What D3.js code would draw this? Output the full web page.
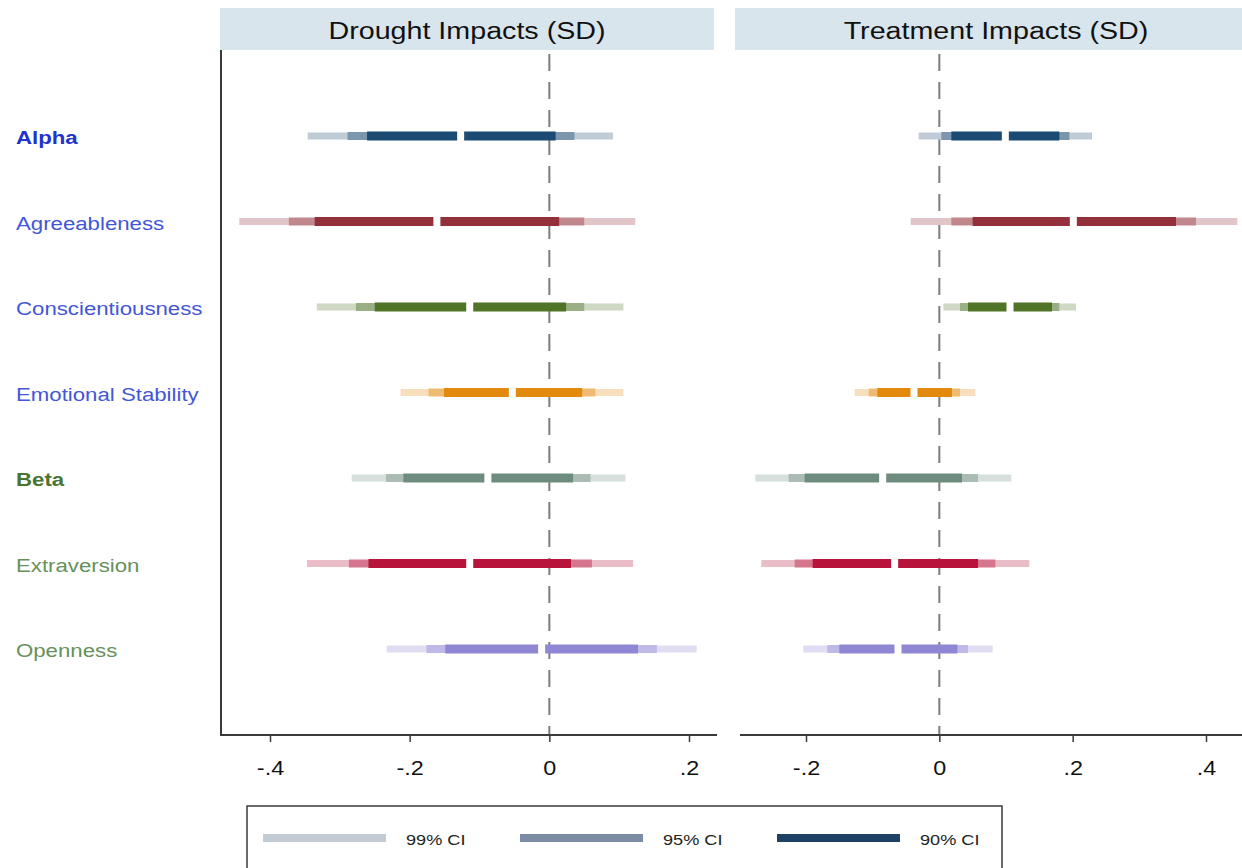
<!DOCTYPE html>
<html>
<head>
<meta charset="utf-8">
<script src="https://cdn.jsdelivr.net/npm/d3@7/dist/d3.min.js"></script>
<style>
  html, body { margin: 0; padding: 0; background: #fff; }
  svg { display: block; font-family: "Liberation Sans", Arial, Helvetica, sans-serif; }
</style>
</head>
<body>
<svg id="chart" width="1242" height="868"></svg>
<script>
// ---------------- DATA ----------------
const categories = ["Alpha", "Agreeableness", "Conscientiousness", "Emotional Stability", "Beta", "Extraversion", "Openness"];
const panelTitles = ["Drought Impacts (SD)", "Treatment Impacts (SD)"];
const ciLevels = ["99% CI", "95% CI", "90% CI"];

// Drought impacts
const droughtPoint = [-0.127, -0.161, -0.114, -0.053, -0.088, -0.114, -0.011];
const droughtLo99 = [-0.346, -0.444, -0.333, -0.213, -0.283, -0.347, -0.233];
const droughtHi99 = [0.091, 0.123, 0.106, 0.106, 0.109, 0.120, 0.211];
const droughtLo95 = [-0.289, -0.373, -0.277, -0.173, -0.234, -0.287, -0.176];
const droughtHi95 = [0.036, 0.050, 0.050, 0.066, 0.059, 0.061, 0.154];
const droughtLo90 = [-0.261, -0.336, -0.250, -0.151, -0.209, -0.259, -0.149];
const droughtHi90 = [0.009, 0.014, 0.024, 0.047, 0.034, 0.031, 0.127];

// Treatment impacts
const treatPoint = [0.099, 0.201, 0.106, -0.038, -0.085, -0.067, -0.062];
const treatLo99 = [-0.031, -0.043, 0.006, -0.127, -0.276, -0.267, -0.204];
const treatHi99 = [0.229, 0.447, 0.205, 0.054, 0.108, 0.135, 0.080];
const treatLo95 = [0.003, 0.018, 0.031, -0.106, -0.226, -0.217, -0.168];
const treatHi95 = [0.195, 0.385, 0.180, 0.031, 0.058, 0.084, 0.043];
const treatLo90 = [0.018, 0.050, 0.043, -0.093, -0.202, -0.190, -0.150];
const treatHi90 = [0.180, 0.355, 0.169, 0.019, 0.034, 0.058, 0.027];

const droughtTicks = [-0.4, -0.2, 0, 0.2];
const treatTicks = [-0.2, 0, 0.2, 0.4];

// ---------------- STYLE ----------------
const baseColors = ["#1b4a72", "#93303b", "#4f7428", "#e3890e", "#6e8c7e", "#b8133b", "#8f86d4"];
const labelColors = ["#2233cc", "#4356d8", "#4356d8", "#4356d8", "#4a7434", "#66915a", "#66915a"];
const labelBold = [true, false, false, false, true, false, false];
const ciTint = [0.28, 0.58, 1.0];
const ciThick = [7, 8, 9];
const legendColors = ["#c3ccd5", "#7a8ca3", "#1d4266"];
const stretch = 1.17; // horizontal text stretch of the reference

const svg = d3.select("#chart");
const white = "#ffffff";

const y = d3.scalePoint().domain(categories).range([136, 649]);

const panels = [
  { title: panelTitles[0], ticks: droughtTicks, domain: [-0.4, 0.2], range: [270, 689],
    left: 221, right: 717, hdrL: 220, hdrR: 714, leftAxis: true,
    point: droughtPoint, lo: [droughtLo99, droughtLo95, droughtLo90], hi: [droughtHi99, droughtHi95, droughtHi90] },
  { title: panelTitles[1], ticks: treatTicks, domain: [-0.2, 0.4], range: [806, 1206],
    left: 740, right: 1242, hdrL: 735, hdrR: 1257, leftAxis: false,
    point: treatPoint, lo: [treatLo99, treatLo95, treatLo90], hi: [treatHi99, treatHi95, treatHi90] }
];

const axisY = 735, plotTop = 50;
const fmt = d => d === 0 ? "0" : (d < 0 ? "-" : "") + "." + Math.round(Math.abs(d) * 10);

panels.forEach(p => {
  const x = d3.scaleLinear().domain(p.domain).range(p.range);
  const g = svg.append("g");

  // header strip
  g.append("rect").attr("x", p.hdrL).attr("y", 8).attr("width", p.hdrR - p.hdrL).attr("height", 42)
    .attr("fill", "#d9e5ec");
  g.append("text")
    .attr("transform", `translate(${(p.hdrL + p.hdrR) / 2},39) scale(${stretch},1)`)
    .attr("text-anchor", "middle").attr("font-size", 24.5).attr("fill", "#111")
    .text(p.title);

  // zero dashed line
  g.append("line").attr("x1", x(0)).attr("x2", x(0)).attr("y1", plotTop + 4).attr("y2", axisY)
    .attr("stroke", "#7d7d7d").attr("stroke-width", 2).attr("stroke-dasharray", "17,11");

  // CI bars
  categories.forEach((c, i) => {
    for (let k = 0; k < 3; k++) {
      const lo = p.lo[k][i], hi = p.hi[k][i];
      g.append("rect")
        .attr("x", x(lo)).attr("width", x(hi) - x(lo))
        .attr("y", y(c) - ciThick[k] / 2).attr("height", ciThick[k])
        .attr("fill", d3.interpolateRgb(white, baseColors[i])(ciTint[k]));
    }
    // point estimate marker (white)
    g.append("rect")
      .attr("x", x(p.point[i]) - 3.5).attr("width", 7)
      .attr("y", y(c) - 5).attr("height", 10)
      .attr("fill", "#ffffff");
  });

  // bottom axis
  const ax = g.append("g").attr("transform", `translate(0,${axisY})`)
    .call(d3.axisBottom(x).tickValues(p.ticks).tickFormat(fmt).tickSize(7).tickSizeOuter(0));
  ax.select(".domain").remove();
  ax.selectAll(".tick line").attr("stroke", "#3a3a3a").attr("stroke-width", 1.5);
  ax.selectAll(".tick text")
    .attr("y", 40).attr("dy", null)
    .attr("font-size", 20).attr("fill", "#111")
    .attr("font-family", "'Liberation Sans', Arial, sans-serif")
    .attr("transform", `scale(${stretch},1)`);
  g.append("line").attr("x1", p.left).attr("x2", p.right).attr("y1", axisY).attr("y2", axisY)
    .attr("stroke", "#3a3a3a").attr("stroke-width", 2);

  if (p.leftAxis) {
    g.append("line").attr("x1", p.left).attr("x2", p.left).attr("y1", plotTop).attr("y2", axisY + 1)
      .attr("stroke", "#3a3a3a").attr("stroke-width", 2);
  }
});

// category labels
categories.forEach((c, i) => {
  svg.append("text")
    .attr("transform", `translate(16,${y(c) + 8}) scale(${stretch},1)`)
    .attr("font-size", 19)
    .attr("font-weight", labelBold[i] ? "bold" : "normal")
    .attr("fill", labelColors[i])
    .text(c);
});

// legend
const leg = svg.append("g");
leg.append("rect").attr("x", 247).attr("y", 806).attr("width", 755).attr("height", 70)
  .attr("fill", "#fff").attr("stroke", "#3a3a3a").attr("stroke-width", 1.5);
const legX = d3.scalePoint().domain(ciLevels).range([263, 777]);
ciLevels.forEach((lv, k) => {
  leg.append("rect").attr("x", legX(lv)).attr("y", 834).attr("width", 123).attr("height", 8)
    .attr("fill", legendColors[k]);
  leg.append("text")
    .attr("transform", `translate(${legX(lv) + 143},845) scale(${stretch},1)`)
    .attr("font-size", 15.5).attr("fill", "#222")
    .text(lv);
});
</script>
</body>
</html>
